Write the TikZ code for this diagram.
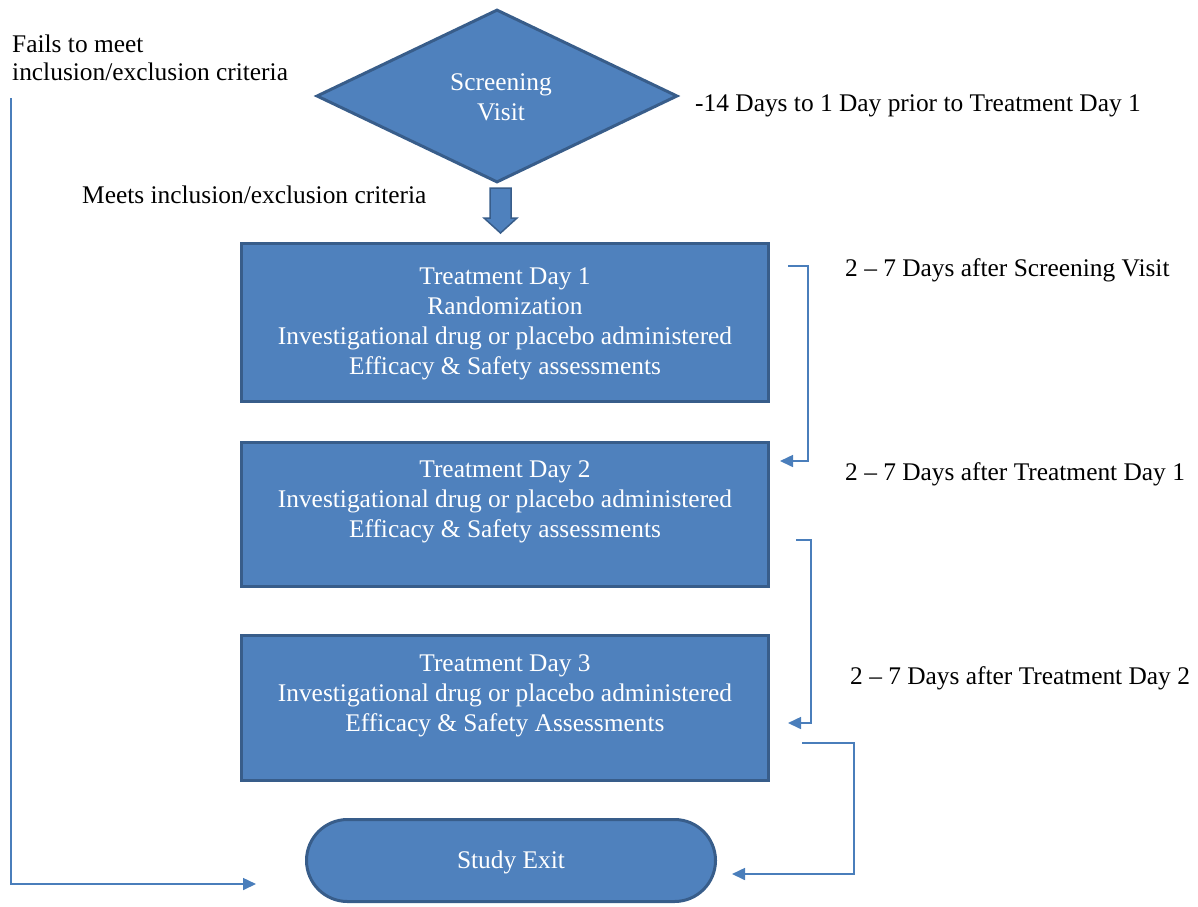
\documentclass[tikz,border=0pt]{standalone}
\usepackage{fontspec}
\setmainfont{Liberation Serif}
\usetikzlibrary{shapes.geometric,shapes.misc,arrows.meta}
\definecolor{bfill}{HTML}{4F81BD}
\definecolor{bdraw}{HTML}{385D8A}
\definecolor{conncol}{HTML}{4A7EBB}
\begin{document}
\begin{tikzpicture}[x=1pt,y=-1pt,
  font=\fontsize{25.4}{30}\selectfont,
  shp/.style={fill=bfill,draw=bdraw,line width=3pt,text=white,inner sep=0pt},
  stepbox/.style={shp,rectangle,minimum width=527,minimum height=158},
  wtext/.style={text=white,align=center,inner sep=0pt},
  lbl/.style={anchor=base west,inner sep=0pt,text=black},
  conn/.style={draw=conncol,line width=1.6pt,-{Triangle[length=13pt,width=12pt]}}]
\useasboundingbox (0,0) rectangle (1198,906);
% shapes
\node[shp,diamond,minimum width=361,minimum height=173] (screen) at (497,96) {};
\node[wtext] (st) at (501,97) {Screening\\Visit};
\node[stepbox] (b1) at (505,322.5) {};
\node[wtext] (t1) at (505,324) {Treatment Day 1\\Randomization\\Investigational drug or placebo administered\\Efficacy \& Safety assessments};
\node[stepbox,minimum height=144] (b2) at (505,514.5) {};
\node[wtext] (t2) at (505,502) {Treatment Day 2\\Investigational drug or placebo administered\\Efficacy \& Safety assessments};
\node[stepbox,minimum height=145] (b3) at (505,708) {};
\node[wtext] (t3) at (505,696) {Treatment Day 3\\Investigational drug or placebo administered\\Efficacy \& Safety Assessments};
\node[shp,rounded rectangle,minimum width=409,minimum height=82] (exit) at (511,860.5) {};
\node[wtext] (et) at (511,862) {Study Exit};
% block arrow
\draw[fill=bfill,draw=bdraw,line width=1.5pt] (490,188) -- (511,188) -- (511,218) -- (517,218) -- (500.5,233) -- (484,218) -- (490,218) -- cycle;
% labels
\node[lbl] (fail1) at (12,52) {Fails to meet};
\node[lbl] (fail2) at (12,80) {inclusion/exclusion criteria};
\node[lbl] (meets) at (82,203) {Meets inclusion/exclusion criteria};
\node[lbl] (pre) at (695,111) {-14 Days to 1 Day prior to Treatment Day 1};
\node[lbl] (l1) at (845,276) {2 -- 7 Days after Screening Visit};
\node[lbl] (l2) at (845,480) {2 -- 7 Days after Treatment Day 1};
\node[lbl] (l3) at (850,684) {2 -- 7 Days after Treatment Day 2};
% connectors
\coordinate (c1s) at (788,266);
\coordinate (c1e) at (780,461);
\draw[conn] (c1s) -- ++(20,0) |- (c1e);
\coordinate (c2s) at (796,540);
\coordinate (c2e) at (788,723);
\draw[conn] (c2s) -- ++(15,0) |- (c2e);
\coordinate (c3s) at (802,743);
\coordinate (c3e) at (732,874);
\draw[conn] (c3s) -- ++(52,0) |- (c3e);
\coordinate (c4s) at (11,98);
\coordinate (c4e) at (256,884);
\draw[conn] (c4s) |- (c4e);
\end{tikzpicture}
\end{document}
